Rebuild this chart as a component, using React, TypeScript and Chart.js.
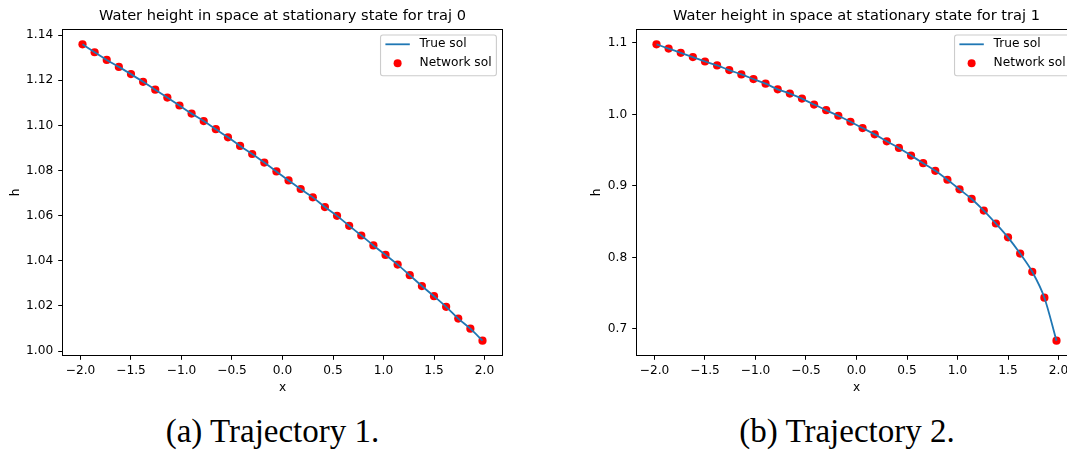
import React, { useEffect, useRef } from 'react';
import { Chart, registerables } from 'chart.js';

Chart.register(...registerables);

// ---------- data ----------
const xGrid = [
  -1.98, -1.86, -1.74, -1.62, -1.5, -1.38, -1.26, -1.14, -1.02, -0.9, -0.78, -0.66,
  -0.54, -0.42, -0.3, -0.18, -0.06, 0.06, 0.18, 0.3, 0.42, 0.54, 0.66, 0.78,
  0.9, 1.02, 1.14, 1.26, 1.38, 1.5, 1.62, 1.74, 1.86, 1.98,
];

const hTraj0 = [
  1.1359, 1.1324, 1.129, 1.1259, 1.1227, 1.1193, 1.1158, 1.1123, 1.1088, 1.1052, 1.1019, 1.0983,
  1.0947, 1.0909, 1.0873, 1.0835, 1.0796, 1.0756, 1.0718, 1.0681, 1.0638, 1.0599, 1.0555, 1.0512,
  1.0468, 1.0426, 1.0383, 1.0336, 1.0288, 1.0243, 1.0196, 1.0144, 1.0099, 1.0046,
];

const hTraj1 = [
  1.0981, 1.0921, 1.0862, 1.0802, 1.074, 1.0685, 1.062, 1.056, 1.0495, 1.043, 1.0351, 1.0291,
  1.0221, 1.0138, 1.0059, 0.9981, 0.9897, 0.9809, 0.9721, 0.9624, 0.9531, 0.9424, 0.9318, 0.9211,
  0.9086, 0.8952, 0.8817, 0.8655, 0.8474, 0.828, 0.8053, 0.7798, 0.7436, 0.6834,
];

const xTicks = [-2, -1.5, -1, -0.5, 0, 0.5, 1, 1.5, 2];
const yTicks0 = [1.0, 1.02, 1.04, 1.06, 1.08, 1.1, 1.12, 1.14];
const yTicks1 = [0.7, 0.8, 0.9, 1.0, 1.1];

const xLimits = [-2.178, 2.178];
const yLimits0 = [0.99803, 1.14247];
const yLimits1 = [0.6627, 1.1188];

const titles = [
  'Water height in space at stationary state for traj 0',
  'Water height in space at stationary state for traj 1',
];
const captions = ['(a) Trajectory 1.', '(b) Trajectory 2.'];
const seriesLabels = ['True sol', 'Network sol'];
const xAxisLabel = 'x';
const yAxisLabel = 'h';

// ---------- style ----------
const FONT = '"DejaVu Sans", sans-serif';
const FS = 12.2;
const BLUE = '#1f77b4';
const RED = '#ff0000';
const CW = 565;
const CH = 410;
const SIDE = 62.5;

const fmt = (v: number, d: number) => v.toFixed(d).replace('-', '\u2212');

const framePlugin = {
  id: 'mplFrame',
  afterDatasetsDraw(chart: any) {
    const { ctx, chartArea: a } = chart;
    ctx.save();
    ctx.strokeStyle = '#000';
    ctx.lineWidth = 1;
    ctx.strokeRect(a.left, a.top, a.right - a.left, a.bottom - a.top);
    ctx.restore();
  },
};

const legendPlugin = {
  id: 'mplLegend',
  afterDraw(chart: any) {
    const { ctx, chartArea: a } = chart;
    const em = FS;
    const labels = chart.data.datasets.map((d: any) => d.label);
    ctx.save();
    ctx.font = `${em}px ${FONT}`;
    const tw = Math.max(...labels.map((l: string) => ctx.measureText(l).width));
    const w = 0.4 * em + 2 * em + 0.8 * em + tw + 0.4 * em;
    const h = 40.7;
    const x0 = a.right - 0.5 * em - w;
    const y0 = a.top + 5.5;
    ctx.beginPath();
    ctx.roundRect(x0, y0, w, h, 2.4);
    ctx.fillStyle = 'rgba(255,255,255,0.8)';
    ctx.fill();
    ctx.strokeStyle = '#cccccc';
    ctx.lineWidth = 1.1;
    ctx.stroke();
    const hx0 = x0 + 0.4 * em;
    const hx1 = hx0 + 2 * em;
    const r1 = y0 + 9.3;
    const r2 = y0 + 28.3;
    ctx.beginPath();
    ctx.moveTo(hx0, r1);
    ctx.lineTo(hx1, r1);
    ctx.strokeStyle = BLUE;
    ctx.lineWidth = 1.8;
    ctx.stroke();
    ctx.beginPath();
    ctx.arc((hx0 + hx1) / 2, r2, 4, 0, Math.PI * 2);
    ctx.fillStyle = RED;
    ctx.fill();
    ctx.fillStyle = '#000';
    ctx.textAlign = 'left';
    ctx.textBaseline = 'middle';
    ctx.fillText(labels[0], hx1 + 0.8 * em, r1);
    ctx.fillText(labels[1], hx1 + 0.8 * em, r2);
    ctx.restore();
  },
};

type PanelProps = {
  h: number[];
  yTicks: number[];
  yLimits: number[];
  yDec: number;
  title: string;
  yTitlePad: number;
  left: number;
};

function Panel({ h, yTicks, yLimits, yDec, title, yTitlePad, left }: PanelProps) {
  const ref = useRef<HTMLCanvasElement | null>(null);
  useEffect(() => {
    if (!ref.current) return;
    const pts = xGrid.map((x, i) => ({ x, y: h[i] }));
    const tickFont = { family: FONT, size: FS };
    const chart = new Chart(ref.current, {
      type: 'scatter',
      data: {
        datasets: [
          {
            type: 'line',
            label: seriesLabels[0],
            data: pts,
            showLine: true,
            borderColor: BLUE,
            borderWidth: 1.8,
            pointRadius: 0,
            fill: false,
            cubicInterpolationMode: 'monotone',
          } as any,
          {
            type: 'scatter',
            label: seriesLabels[1],
            data: pts,
            backgroundColor: RED,
            borderWidth: 0,
            pointRadius: 4.1,
          } as any,
        ],
      },
      options: {
        responsive: false,
        animation: false,
        events: [],
        layout: { padding: 0 },
        plugins: {
          legend: { display: false },
          tooltip: { enabled: false },
          title: {
            display: true,
            text: title,
            color: '#000',
            font: { family: FONT, size: 14.6, weight: 'normal', lineHeight: 1.2 },
            padding: { top: 7.24, bottom: 4.74 },
          },
        },
        scales: {
          x: {
            type: 'linear',
            position: 'bottom',
            min: xLimits[0],
            max: xLimits[1],
            afterBuildTicks: (s: any) => {
              s.ticks = xTicks.map((v) => ({ value: v }));
            },
            afterFit: (s: any) => {
              s.height = CH - 355.5;
            },
            ticks: {
              autoSkip: false,
              maxRotation: 0,
              color: '#000',
              font: tickFont,
              padding: 3.7,
              callback: (v: any) => fmt(Number(v), 1),
            },
            grid: {
              display: true,
              drawOnChartArea: false,
              drawTicks: true,
              tickLength: 4.3,
              tickColor: '#000',
              tickWidth: 1,
            },
            border: { display: false },
            title: {
              display: true,
              text: xAxisLabel,
              color: '#000',
              font: { family: FONT, size: FS, lineHeight: 1.2 },
              padding: { top: 0, bottom: 14.5 },
            },
          },
          y: {
            type: 'linear',
            position: 'left',
            min: yLimits[0],
            max: yLimits[1],
            afterBuildTicks: (s: any) => {
              s.ticks = yTicks.map((v) => ({ value: v }));
            },
            afterFit: (s: any) => {
              s.width = SIDE;
            },
            ticks: {
              autoSkip: false,
              color: '#000',
              font: tickFont,
              padding: 5,
              callback: (v: any) => fmt(Number(v), yDec),
            },
            grid: {
              display: true,
              drawOnChartArea: false,
              drawTicks: true,
              tickLength: 4.3,
              tickColor: '#000',
              tickWidth: 1,
            },
            border: { display: false },
            title: {
              display: true,
              text: yAxisLabel,
              color: '#000',
              font: { family: FONT, size: FS, lineHeight: 1.2 },
              padding: { top: yTitlePad, bottom: 0 },
            },
          },
          yBalance: {
            type: 'linear',
            position: 'right',
            display: true,
            afterFit: (s: any) => {
              s.width = SIDE;
            },
            ticks: { display: false },
            grid: { display: false },
            border: { display: false },
            title: { display: false },
          },
        },
      } as any,
      plugins: [framePlugin, legendPlugin],
    });
    return () => chart.destroy();
  }, [h, yTicks, yLimits, yDec, title, yTitlePad]);

  return (
    <canvas
      ref={ref}
      width={CW}
      height={CH}
      style={{ position: 'absolute', left, top: 0, width: CW, height: CH }}
    />
  );
}

function Caption({ text, center }: { text: string; center: number }) {
  return (
    <div
      style={{
        position: 'absolute',
        left: center - 160,
        width: 320,
        top: 415,
        textAlign: 'center',
        fontFamily: '"Liberation Serif", "Times New Roman", serif',
        fontSize: 33,
        lineHeight: '32px',
        color: '#000',
        whiteSpace: 'nowrap',
      }}
    >
      {text}
    </div>
  );
}

export default function App() {
  return (
    <div
      style={{
        position: 'fixed',
        left: 0,
        top: 0,
        width: 1067,
        height: 451,
        overflow: 'hidden',
        background: '#fff',
      }}
    >
      <Panel h={hTraj0} yTicks={yTicks0} yLimits={yLimits0} yDec={2} title={titles[0]} yTitlePad={8.1} left={0} />
      <Panel h={hTraj1} yTicks={yTicks1} yLimits={yLimits1} yDec={1} title={titles[1]} yTitlePad={15.2} left={574} />
      <Caption text={captions[0]} center={272.5} />
      <Caption text={captions[1]} center={847} />
    </div>
  );
}
